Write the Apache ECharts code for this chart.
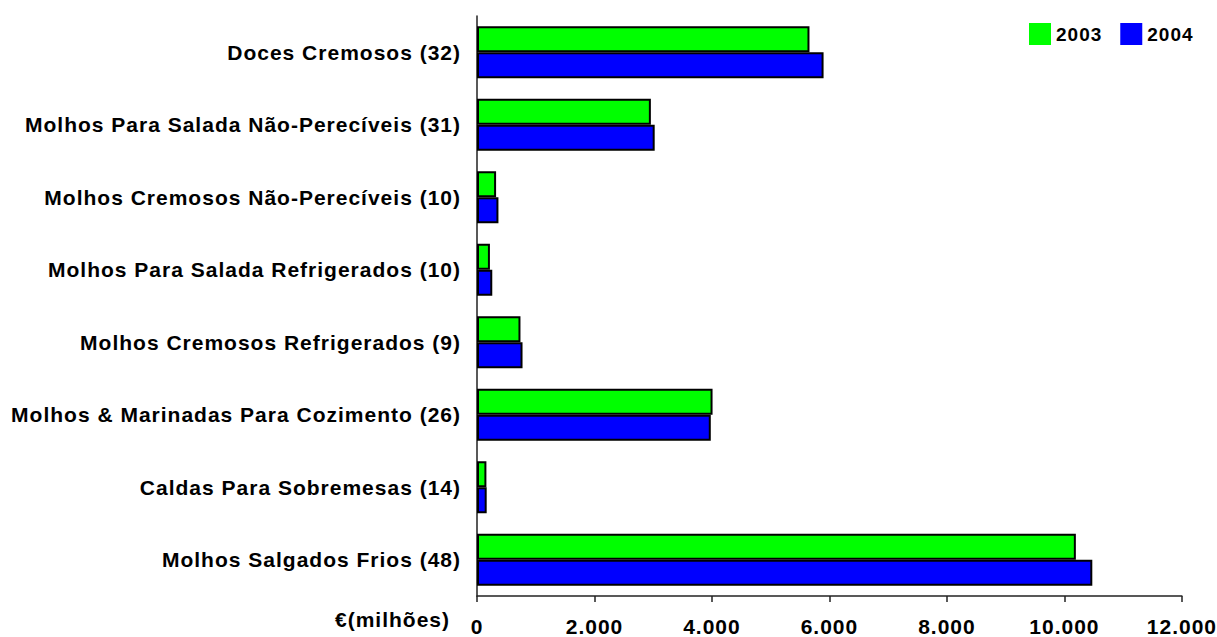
<!DOCTYPE html>
<html>
<head>
<meta charset="utf-8">
<script src="https://cdn.jsdelivr.net/npm/echarts@6/dist/echarts.min.js"></script>
<style>
  html, body { margin: 0; padding: 0; background: #ffffff; }
  #chart { width: 1217px; height: 637px; }
  /* the labels are set with a slightly open tracking */
  #chart svg text { letter-spacing: 1px; }
</style>
</head>
<body>
<div id="chart"></div>
<script>
// Categories, listed top to bottom
const categories = [
  'Doces Cremosos (32)',
  'Molhos Para Salada Não-Perecíveis (31)',
  'Molhos Cremosos Não-Perecíveis (10)',
  'Molhos Para Salada Refrigerados (10)',
  'Molhos Cremosos Refrigerados (9)',
  'Molhos & Marinadas Para Cozimento (26)',
  'Caldas Para Sobremesas (14)',
  'Molhos Salgados Frios (48)'
];

// Sales in € millions
const values2003 = [5660, 2960, 325, 220, 740, 4010, 160, 10195];
const values2004 = [5900, 3025, 365, 260, 775, 3980, 165, 10475];

const seriesNames = ['2003', '2004'];
const xTicks = [0, 2000, 4000, 6000, 8000, 10000, 12000];
const unitLabel = '€(milhões)';

const FONT = '"Liberation Sans", Arial, sans-serif';

function fmtThousands(v) {
  return String(v).replace(/\B(?=(\d{3})+(?!\d))/g, '.');
}

const chart = echarts.init(document.getElementById('chart'), null, { renderer: 'svg' });

chart.setOption({
  animation: false,
  backgroundColor: '#ffffff',
  grid: { left: 477, right: 35, top: 16, bottom: 40, containLabel: false },
  legend: {
    data: seriesNames,
    left: 1024,
    top: 18,
    itemWidth: 22,
    itemHeight: 22,
    itemGap: 22,
    icon: 'rect',
    itemStyle: { borderWidth: 0 },
    textStyle: { fontFamily: FONT, fontWeight: 'bold', fontSize: 19, color: '#000' }
  },
  xAxis: {
    type: 'value',
    min: xTicks[0],
    max: xTicks[xTicks.length - 1],
    interval: xTicks[1] - xTicks[0],
    axisLine: { show: true, lineStyle: { color: '#222', width: 1.5 } },
    axisTick: { show: true, length: 6, lineStyle: { color: '#222', width: 1.5 } },
    splitLine: { show: false },
    axisLabel: {
      margin: 20,
      fontFamily: FONT, fontWeight: 'bold', fontSize: 21, color: '#000',
      formatter: fmtThousands
    }
  },
  yAxis: {
    type: 'category',
    data: categories,
    inverse: true,
    axisLine: { show: true, lineStyle: { color: '#222', width: 1.5 } },
    axisTick: { show: false },
    axisLabel: {
      margin: 16,
      fontFamily: FONT, fontWeight: 'bold', fontSize: 21, color: '#000'
    }
  },
  graphic: [{
    type: 'text',
    x: 450,
    y: 619,
    style: {
      text: unitLabel,
      font: 'bold 21px ' + FONT,
      fill: '#000',
      textAlign: 'right',
      textVerticalAlign: 'middle'
    }
  }],
  series: [
    {
      name: seriesNames[0],
      type: 'bar',
      data: values2003,
      barWidth: 26,
      barGap: '0%',
      itemStyle: { color: '#00ff00', borderColor: '#000', borderWidth: 2 }
    },
    {
      name: seriesNames[1],
      type: 'bar',
      data: values2004,
      barWidth: 26,
      barGap: '0%',
      itemStyle: { color: '#0000ff', borderColor: '#000', borderWidth: 2 }
    }
  ]
});
</script>
</body>
</html>
